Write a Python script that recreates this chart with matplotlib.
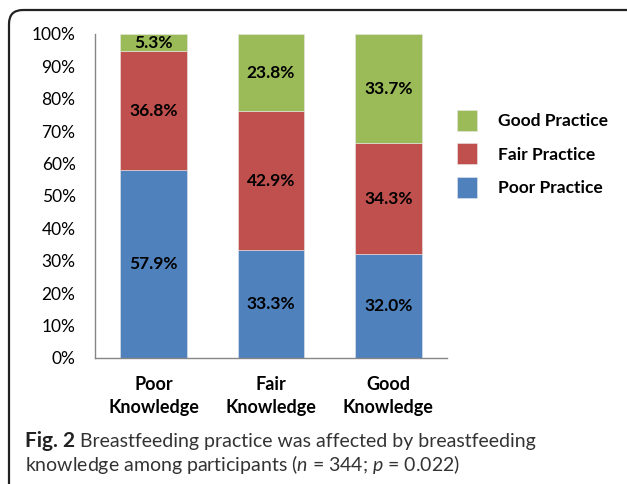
import numpy as np
import matplotlib.pyplot as plt
from matplotlib.patches import FancyBboxPatch

categories = ['Poor\nKnowledge', 'Fair\nKnowledge', 'Good\nKnowledge']
poor_practice = [57.9, 33.3, 32.0]
fair_practice = [36.8, 42.9, 34.3]
good_practice = [5.3, 23.8, 33.7]
series_names = ['Poor Practice', 'Fair Practice', 'Good Practice']
colors = ['#4F81BD', '#C0504D', '#9BBB59']

plt.rcParams['font.family'] = ['Lato', 'DejaVu Sans']
plt.rcParams['mathtext.fontset'] = 'custom'
plt.rcParams['mathtext.it'] = 'Lato:italic'
plt.rcParams['mathtext.rm'] = 'Lato'

W, H = 627, 484
fig = plt.figure(figsize=(W/100, H/100), dpi=100)

# rounded frame, drawn in pixel coordinates
frame = FancyBboxPatch((9, -30), 700, H - 10 + 30,
                       boxstyle='round,pad=0,rounding_size=14',
                       transform=None, fill=False,
                       edgecolor='#222222', linewidth=1.6, clip_on=False)
fig.patches.append(frame)

ax = fig.add_axes([95/W, 1 - 358/H, 352/W, 324/H])
x = np.arange(len(categories))
width = 0.57
bottom = np.zeros(len(categories))
data = [poor_practice, fair_practice, good_practice]
bars = []
for vals, name, c in zip(data, series_names, colors):
    b = ax.bar(x, vals, width, bottom=bottom, color=c, label=name,
               edgecolor='#e8e8e8', linewidth=0.4)
    bars.append(b)
    for xi, v, bt in zip(x, vals, bottom):
        ax.text(xi, bt + v/2, f'{v:.1f}%', ha='center', va='center',
                fontsize=12.5, fontweight='bold', color='black')
    bottom += np.array(vals)

ax.set_xlim(-0.5, 2.5)
ax.set_ylim(0, 100)
ax.set_yticks(np.arange(0, 101, 10))
ax.set_yticklabels([f'{v}%' for v in range(0, 101, 10)], fontsize=12.5)
ax.set_xticks(x)
ax.set_xticklabels(categories, fontsize=13, fontweight='bold', linespacing=1.45)
ax.tick_params(axis='y', length=0, pad=14)
ax.tick_params(axis='x', length=0, pad=13)
for s in ['top', 'right']:
    ax.spines[s].set_visible(False)
for s in ['left', 'bottom']:
    ax.spines[s].set_color('#868686')
    ax.spines[s].set_linewidth(1.0)

handles = [bars[2], bars[1], bars[0]]
leg = fig.legend(handles, [series_names[2], series_names[1], series_names[0]],
                 loc='upper left', bbox_to_anchor=(441/W, 1 - 94/H),
                 frameon=False, fontsize=12.5, handlelength=1.2, handleheight=1.5,
                 handletextpad=1.2, labelspacing=0.72)
for t in leg.get_texts():
    t.set_fontweight('bold')

fig.text(25/W, 1 - 441/H, 'Fig. 2', fontsize=15, fontweight='bold',
         va='center', ha='left', color='#222222')
fig.text(80/W, 1 - 441/H, 'Breastfeeding practice was affected by breastfeeding',
         fontsize=14, va='center', ha='left', color='#333333')
fig.text(25/W, 1 - 465/H, r'knowledge among participants ($\it{n}$ = 344; $\it{p}$ = 0.022)',
         fontsize=14, va='center', ha='left', color='#333333')

fig.savefig('out.png', dpi=100)
